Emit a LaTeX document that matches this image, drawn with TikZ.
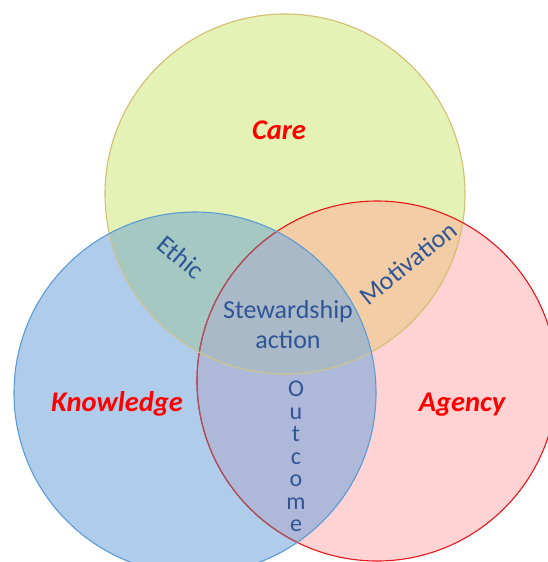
\documentclass[tikz,border=0pt]{standalone}
\usepackage{fontspec}
\setmainfont{Carlito}
\definecolor{carefill}{HTML}{E4F3B5}
\definecolor{knowfill}{HTML}{AFCDEB}
\definecolor{agfill}{HTML}{FFD2D3}
\definecolor{cafill}{HTML}{F2CDA6}
\definecolor{ckfill}{HTML}{A6C8C2}
\definecolor{kafill}{HTML}{AEB9D9}
\definecolor{midfill}{HTML}{A9B9C7}
\definecolor{careline}{HTML}{D3BE72}
\definecolor{knowline}{HTML}{5B9BD5}
\definecolor{agline}{HTML}{E8161B}
\definecolor{labblue}{HTML}{2F5597}
\begin{document}
\begin{tikzpicture}[x=1pt,y=-1pt,
  bigtitle/.style={text=red,font=\fontsize{28.5}{30}\selectfont\bfseries\itshape,inner sep=0pt,anchor=base},
  inlab/.style={text=labblue,font=\fontsize{26}{28}\selectfont,inner sep=0pt},
  outletter/.style={text=labblue,font=\fontsize{24}{26}\selectfont,inner sep=0pt,anchor=base},
  rim/.style={line width=1.1pt}]
\useasboundingbox (0,0) rectangle (547,562);
\coordinate (careC) at (285,194);
\coordinate (knowC) at (195,393);
\coordinate (agC) at (377,381);
\def\careP{(careC) circle[radius=180pt]}
\def\knowP{(knowC) circle[radius=181pt]}
\def\agP{(agC) circle[radius=180pt]}
% single regions
\fill[carefill] \careP;
\fill[agfill] \agP;
\fill[knowfill] \knowP;
% pairwise overlaps
\begin{scope}
  \clip \knowP;
  \fill[kafill] \agP;
\end{scope}
\begin{scope}
  \clip \careP;
  \fill[ckfill] \knowP;
  \fill[cafill] \agP;
  \clip \knowP;
  \fill[midfill] \agP;
\end{scope}
% outlines
\draw[rim,careline] \careP;
\draw[rim,agline] \agP;
\begin{scope}
  \clip \knowP;
  \draw[rim,agline!55!knowfill!80!black] \agP;
  \draw[rim,careline!60!knowfill] \careP;
\end{scope}
\draw[rim,knowline] \knowP;
% labels
\node[bigtitle] (care) at (279,139.5) {Care};
\node[bigtitle] (know) at (117,411) {Knowledge};
\node[bigtitle] (agency) at (462,411) {Agency};
\node[inlab,rotate=-40] (ethic) at (181,257) {Ethic};
\node[inlab,rotate=39] (motiv) at (408,263) {Motivation};
\node[inlab,anchor=base] (stew) at (288,318.5) {Stewardship};
\node[inlab,anchor=base] (action) at (288,348.5) {action};
\node[outletter] (o1) at (296,396.5) {O};
\node[outletter] (o2) at (296,419) {u};
\node[outletter] (o3) at (296,441.5) {t};
\node[outletter] (o4) at (296,464) {c};
\node[outletter] (o5) at (296,486.5) {o};
\node[outletter] (o6) at (296,509) {m};
\node[outletter] (o7) at (296,531.5) {e};
\end{tikzpicture}
\end{document}
